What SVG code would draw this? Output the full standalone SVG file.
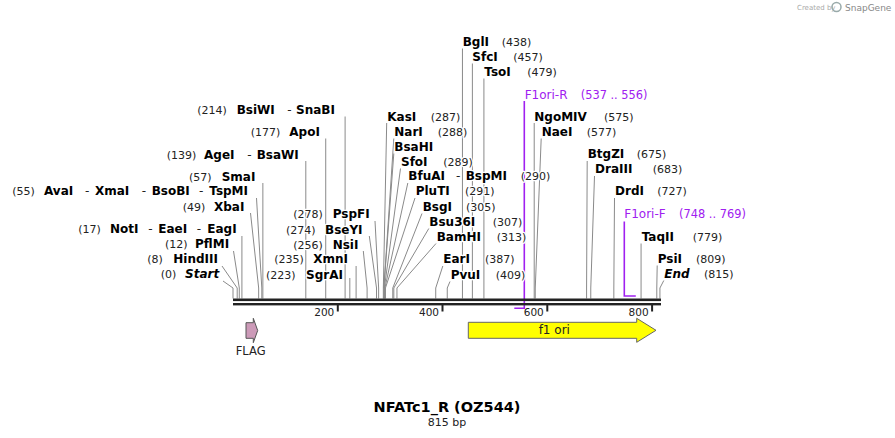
<svg xmlns="http://www.w3.org/2000/svg" width="895" height="438" viewBox="0 0 895 438">
<style>
text{font-family:"DejaVu Sans","Verdana",sans-serif;}
.lbl{paint-order:stroke;stroke:#fff;stroke-width:2.5px;stroke-linejoin:round;}
.b{font-weight:bold;font-size:12px;fill:#000;}
.bi{font-weight:bold;font-style:italic;font-size:12px;fill:#000;}
.n{font-size:11px;fill:#222;}
.d{font-size:12px;fill:#222;}
.p{font-size:12px;fill:#a020f0;}
.pn{font-size:11.4px;fill:#a020f0;}
#connectors polyline{fill:none;stroke:#8a8a8a;stroke-width:1;}
#connectors polyline.pr{stroke:#a020f0;stroke-width:1.6;}
.tick{stroke:#222;stroke-width:2;}
.tl{font-size:10.5px;fill:#222;text-anchor:end;}
</style>

<g id="watermark">
<text x="797" y="10" style="font-size:7px;fill:#aaa;">Created by</text>
<circle cx="836.5" cy="7" r="4.5" fill="none" stroke="#9aa" stroke-width="1.5"/>
<text x="845" y="10.5" style="font-size:9px;fill:#888;">SnapGene</text>
</g>

<g id="connectors">
<polyline points="223,281 233,288 233,298.5"/>
<polyline points="222,266 237.19,288 237.19,298.5"/>
<polyline points="233.5,251 239.29,288 239.29,298.5"/>
<polyline points="241.91,236 241.91,298.5"/>
<polyline points="250.5,213 258.67,288 258.67,298.5"/>
<polyline points="256.5,198 261.81,288 261.81,298.5"/>
<polyline points="262.86,183 262.86,298.5"/>
<polyline points="305.81,161 305.81,298.5"/>
<polyline points="325.72,138.5 325.72,298.5"/>
<polyline points="345.1,116.5 345.1,298.5"/>
<polyline points="349.82,278 349.82,298.5"/>
<polyline points="356.1,266 356.1,298.5"/>
<polyline points="363.3,251 367.1,288 367.1,298.5"/>
<polyline points="369.3,236 376.53,288 376.53,298.5"/>
<polyline points="375,221 378.63,288 378.63,298.5"/>
<polyline points="386.7,123 383.34,288 383.34,298.5"/>
<polyline points="393.8,138.5 383.87,288 383.87,298.5"/>
<polyline points="393.8,153.5 383.87,288"/>
<polyline points="400.5,168.5 384.39,288 384.39,298.5"/>
<polyline points="407.8,183 384.91,288 384.91,298.5"/>
<polyline points="415,198 385.44,288 385.44,298.5"/>
<polyline points="422,213.5 392.77,288 392.77,298.5"/>
<polyline points="428.8,228.5 393.82,288 393.82,298.5"/>
<polyline points="436,243.5 396.96,288 396.96,298.5"/>
<polyline points="442.8,266 435.73,288 435.73,298.5"/>
<polyline points="450,281.5 447.25,288 447.25,298.5"/>
<polyline points="462.44,48.5 462.44,298.5"/>
<polyline points="472.39,63.5 472.39,298.5"/>
<polyline points="483.92,78.5 483.92,298.5"/>
<polyline points="534.21,123 534.21,298.5"/>
<polyline points="541.2,138.5 535.26,288 535.26,298.5"/>
<polyline points="587.2,161 586.59,288 586.59,298.5"/>
<polyline points="594.5,176 590.78,288 590.78,298.5"/>
<polyline points="614.5,198 613.83,288 613.83,298.5"/>
<polyline points="641.07,243.5 641.07,298.5"/>
<polyline points="657.2,265.5 656.79,288 656.79,298.5"/>
<polyline points="663.8,280.5 659.93,288 659.93,298.5"/>
<polyline class="pr" points="524.3,101 524.3,308.3 514.3,308.3"/>
<polyline class="pr" points="624.3,221.5 624.3,296 635.8,296"/>
</g>

<g id="axis">
<rect x="233" y="298.5" width="428" height="2.6" fill="#222"/>
<rect x="233" y="303" width="428" height="2.4" fill="#222"/>
<line class="tick" x1="337.8" y1="305" x2="337.8" y2="311.5"/>
<line class="tick" x1="442.5" y1="305" x2="442.5" y2="311.5"/>
<line class="tick" x1="547.3" y1="305" x2="547.3" y2="311.5"/>
<line class="tick" x1="652.1" y1="305" x2="652.1" y2="311.5"/>
<text class="tl" x="334.3" y="316">200</text>
<text class="tl" x="439" y="316">400</text>
<text class="tl" x="543.8" y="316">600</text>
<text class="tl" x="648.6" y="316">800</text>
</g>

<g id="feat-FLAG">
<path d="M246,322.7 H253.3 V318.3 L257.7,330.5 L253.3,342.7 V338.3 H246 Z" fill="#cc9ab8" stroke="#555" stroke-width="1"/>
<text x="250.7" y="355" text-anchor="middle" style="font-size:11.5px;fill:#222;">FLAG</text>
</g>

<g id="feat-f1ori">
<path d="M468.3,322.3 H636.7 V318.3 L656,330.3 L636.7,342.3 V338.3 H468.3 Z" fill="#ffff00" stroke="#666" stroke-width="1"/>
<text x="554.3" y="334.2" text-anchor="middle" style="font-size:12px;fill:#222;">f1 ori</text>
</g>

<g id="lbl-Start"><text class="lbl" y="278.3"><tspan class="n" x="160.7">(0)</tspan><tspan class="bi" x="185">Start</tspan></text></g>
<g id="lbl-HindIII"><text class="lbl" y="263.3"><tspan class="n" x="147.3">(8)</tspan><tspan class="b" x="173.3">HindIII</tspan></text></g>
<g id="lbl-PflMI"><text class="lbl" y="248.3"><tspan class="n" x="165">(12)</tspan><tspan class="b" x="195">PflMI</tspan></text></g>
<g id="lbl-NotI"><text class="lbl" y="233.3"><tspan class="n" x="78.3">(17)</tspan><tspan class="b" x="110">NotI</tspan><tspan class="d" x="148.3">-</tspan><tspan class="b" x="158.3">EaeI</tspan><tspan class="d" x="196.7">-</tspan><tspan class="b" x="207.3">EagI</tspan></text></g>
<g id="lbl-XbaI"><text class="lbl" y="210.5"><tspan class="n" x="182.7">(49)</tspan><tspan class="b" x="214">XbaI</tspan></text></g>
<g id="lbl-AvaI"><text class="lbl" y="195"><tspan class="n" x="12.3">(55)</tspan><tspan class="b" x="44">AvaI</tspan><tspan class="d" x="85">-</tspan><tspan class="b" x="95">XmaI</tspan><tspan class="d" x="141.7">-</tspan><tspan class="b" x="151.7">BsoBI</tspan><tspan class="d" x="199">-</tspan><tspan class="b" x="209.3">TspMI</tspan></text></g>
<g id="lbl-SmaI"><text class="lbl" y="180.5"><tspan class="n" x="189">(57)</tspan><tspan class="b" x="221.7">SmaI</tspan></text></g>
<g id="lbl-AgeI"><text class="lbl" y="158.5"><tspan class="n" x="166.7">(139)</tspan><tspan class="b" x="204">AgeI</tspan><tspan class="d" x="247.3">-</tspan><tspan class="b" x="256.7">BsaWI</tspan></text></g>
<g id="lbl-ApoI"><text class="lbl" y="135.7"><tspan class="n" x="250.7">(177)</tspan><tspan class="b" x="289.3">ApoI</tspan></text></g>
<g id="lbl-BsiWI"><text class="lbl" y="114"><tspan class="n" x="197.3">(214)</tspan><tspan class="b" x="236.7">BsiWI</tspan><tspan class="d" x="287.3">-</tspan><tspan class="b" x="296">SnaBI</tspan></text></g>

<g id="lbl-SgrAI"><text class="lbl" y="279"><tspan class="n" x="266">(223)</tspan><tspan class="b" x="306">SgrAI</tspan></text></g>
<g id="lbl-XmnI"><text class="lbl" y="263.3"><tspan class="n" x="274.3">(235)</tspan><tspan class="b" x="313.3">XmnI</tspan></text></g>
<g id="lbl-NsiI"><text class="lbl" y="249"><tspan class="n" x="293.3">(256)</tspan><tspan class="b" x="332.7">NsiI</tspan></text></g>
<g id="lbl-BseYI"><text class="lbl" y="234"><tspan class="n" x="286">(274)</tspan><tspan class="b" x="325">BseYI</tspan></text></g>
<g id="lbl-PspFI"><text class="lbl" y="218.3"><tspan class="n" x="293.3">(278)</tspan><tspan class="b" x="332.7">PspFI</tspan></text></g>

<g id="lbl-KasI"><text class="lbl" y="121"><tspan class="b" x="387.3">KasI</tspan><tspan class="n" x="430.7">(287)</tspan></text></g>
<g id="lbl-NarI"><text class="lbl" y="136"><tspan class="b" x="394.3">NarI</tspan><tspan class="n" x="437.7">(288)</tspan></text></g>
<g id="lbl-BsaHI"><text class="lbl b" x="394.3" y="151">BsaHI</text></g>
<g id="lbl-SfoI"><text class="lbl" y="165.7"><tspan class="b" x="401">SfoI</tspan><tspan class="n" x="443.3">(289)</tspan></text></g>
<g id="lbl-BfuAI"><text class="lbl" y="180"><tspan class="b" x="408.3">BfuAI</tspan><tspan class="d" x="456">-</tspan><tspan class="b" x="465.7">BspMI</tspan><tspan class="n" x="520.7">(290)</tspan></text></g>
<g id="lbl-PluTI"><text class="lbl" y="195"><tspan class="b" x="415.7">PluTI</tspan><tspan class="n" x="465">(291)</tspan></text></g>
<g id="lbl-BsgI"><text class="lbl" y="210.7"><tspan class="b" x="422.7">BsgI</tspan><tspan class="n" x="466">(305)</tspan></text></g>
<g id="lbl-Bsu36I"><text class="lbl" y="225.7"><tspan class="b" x="429.3">Bsu36I</tspan><tspan class="n" x="492.7">(307)</tspan></text></g>
<g id="lbl-BamHI"><text class="lbl" y="240.7"><tspan class="b" x="436.7">BamHI</tspan><tspan class="n" x="496.7">(313)</tspan></text></g>
<g id="lbl-EarI"><text class="lbl" y="263.3"><tspan class="b" x="443.3">EarI</tspan><tspan class="n" x="485">(387)</tspan></text></g>
<g id="lbl-PvuI"><text class="lbl" y="279"><tspan class="b" x="450.7">PvuI</tspan><tspan class="n" x="495.7">(409)</tspan></text></g>
<g id="lbl-BglI"><text class="lbl" y="46"><tspan class="b" x="462.7">BglI</tspan><tspan class="n" x="501.7">(438)</tspan></text></g>
<g id="lbl-SfcI"><text class="lbl" y="60.7"><tspan class="b" x="472.3">SfcI</tspan><tspan class="n" x="513.3">(457)</tspan></text></g>
<g id="lbl-TsoI"><text class="lbl" y="75.7"><tspan class="b" x="484.3">TsoI</tspan><tspan class="n" x="527.3">(479)</tspan></text></g>
<g id="lbl-F1ori-R"><text class="lbl" y="99"><tspan class="p" x="524.7">F1ori-R</tspan><tspan class="pn" x="580.7">(537 .. 556)</tspan></text></g>

<g id="lbl-NgoMIV"><text class="lbl" y="120.5"><tspan class="b" x="534.3">NgoMIV</tspan><tspan class="n" x="604">(575)</tspan></text></g>
<g id="lbl-NaeI"><text class="lbl" y="135.7"><tspan class="b" x="541.7">NaeI</tspan><tspan class="n" x="586.7">(577)</tspan></text></g>
<g id="lbl-BtgZI"><text class="lbl" y="158.3"><tspan class="b" x="587.7">BtgZI</tspan><tspan class="n" x="636.7">(675)</tspan></text></g>
<g id="lbl-DraIII"><text class="lbl" y="173.3"><tspan class="b" x="595">DraIII</tspan><tspan class="n" x="652.7">(683)</tspan></text></g>
<g id="lbl-DrdI"><text class="lbl" y="195"><tspan class="b" x="615">DrdI</tspan><tspan class="n" x="657.3">(727)</tspan></text></g>
<g id="lbl-F1ori-F"><text class="lbl" y="218.3"><tspan class="p" x="624.3">F1ori-F</tspan><tspan class="pn" x="679">(748 .. 769)</tspan></text></g>
<g id="lbl-TaqII"><text class="lbl" y="240.7"><tspan class="b" x="641.7">TaqII</tspan><tspan class="n" x="692.7">(779)</tspan></text></g>
<g id="lbl-PsiI"><text class="lbl" y="262.7"><tspan class="b" x="657.7">PsiI</tspan><tspan class="n" x="696">(809)</tspan></text></g>
<g id="lbl-End"><text class="lbl" y="277.7"><tspan class="bi" x="664.3">End</tspan><tspan class="n" x="704">(815)</tspan></text></g>

<g id="title">
<text x="447" y="411.5" text-anchor="middle" style="font-size:14.5px;font-weight:bold;fill:#000;">NFATc1_R (OZ544)</text>
<text x="447" y="425.5" text-anchor="middle" style="font-size:11px;fill:#222;">815 bp</text>
</g>
</svg>
